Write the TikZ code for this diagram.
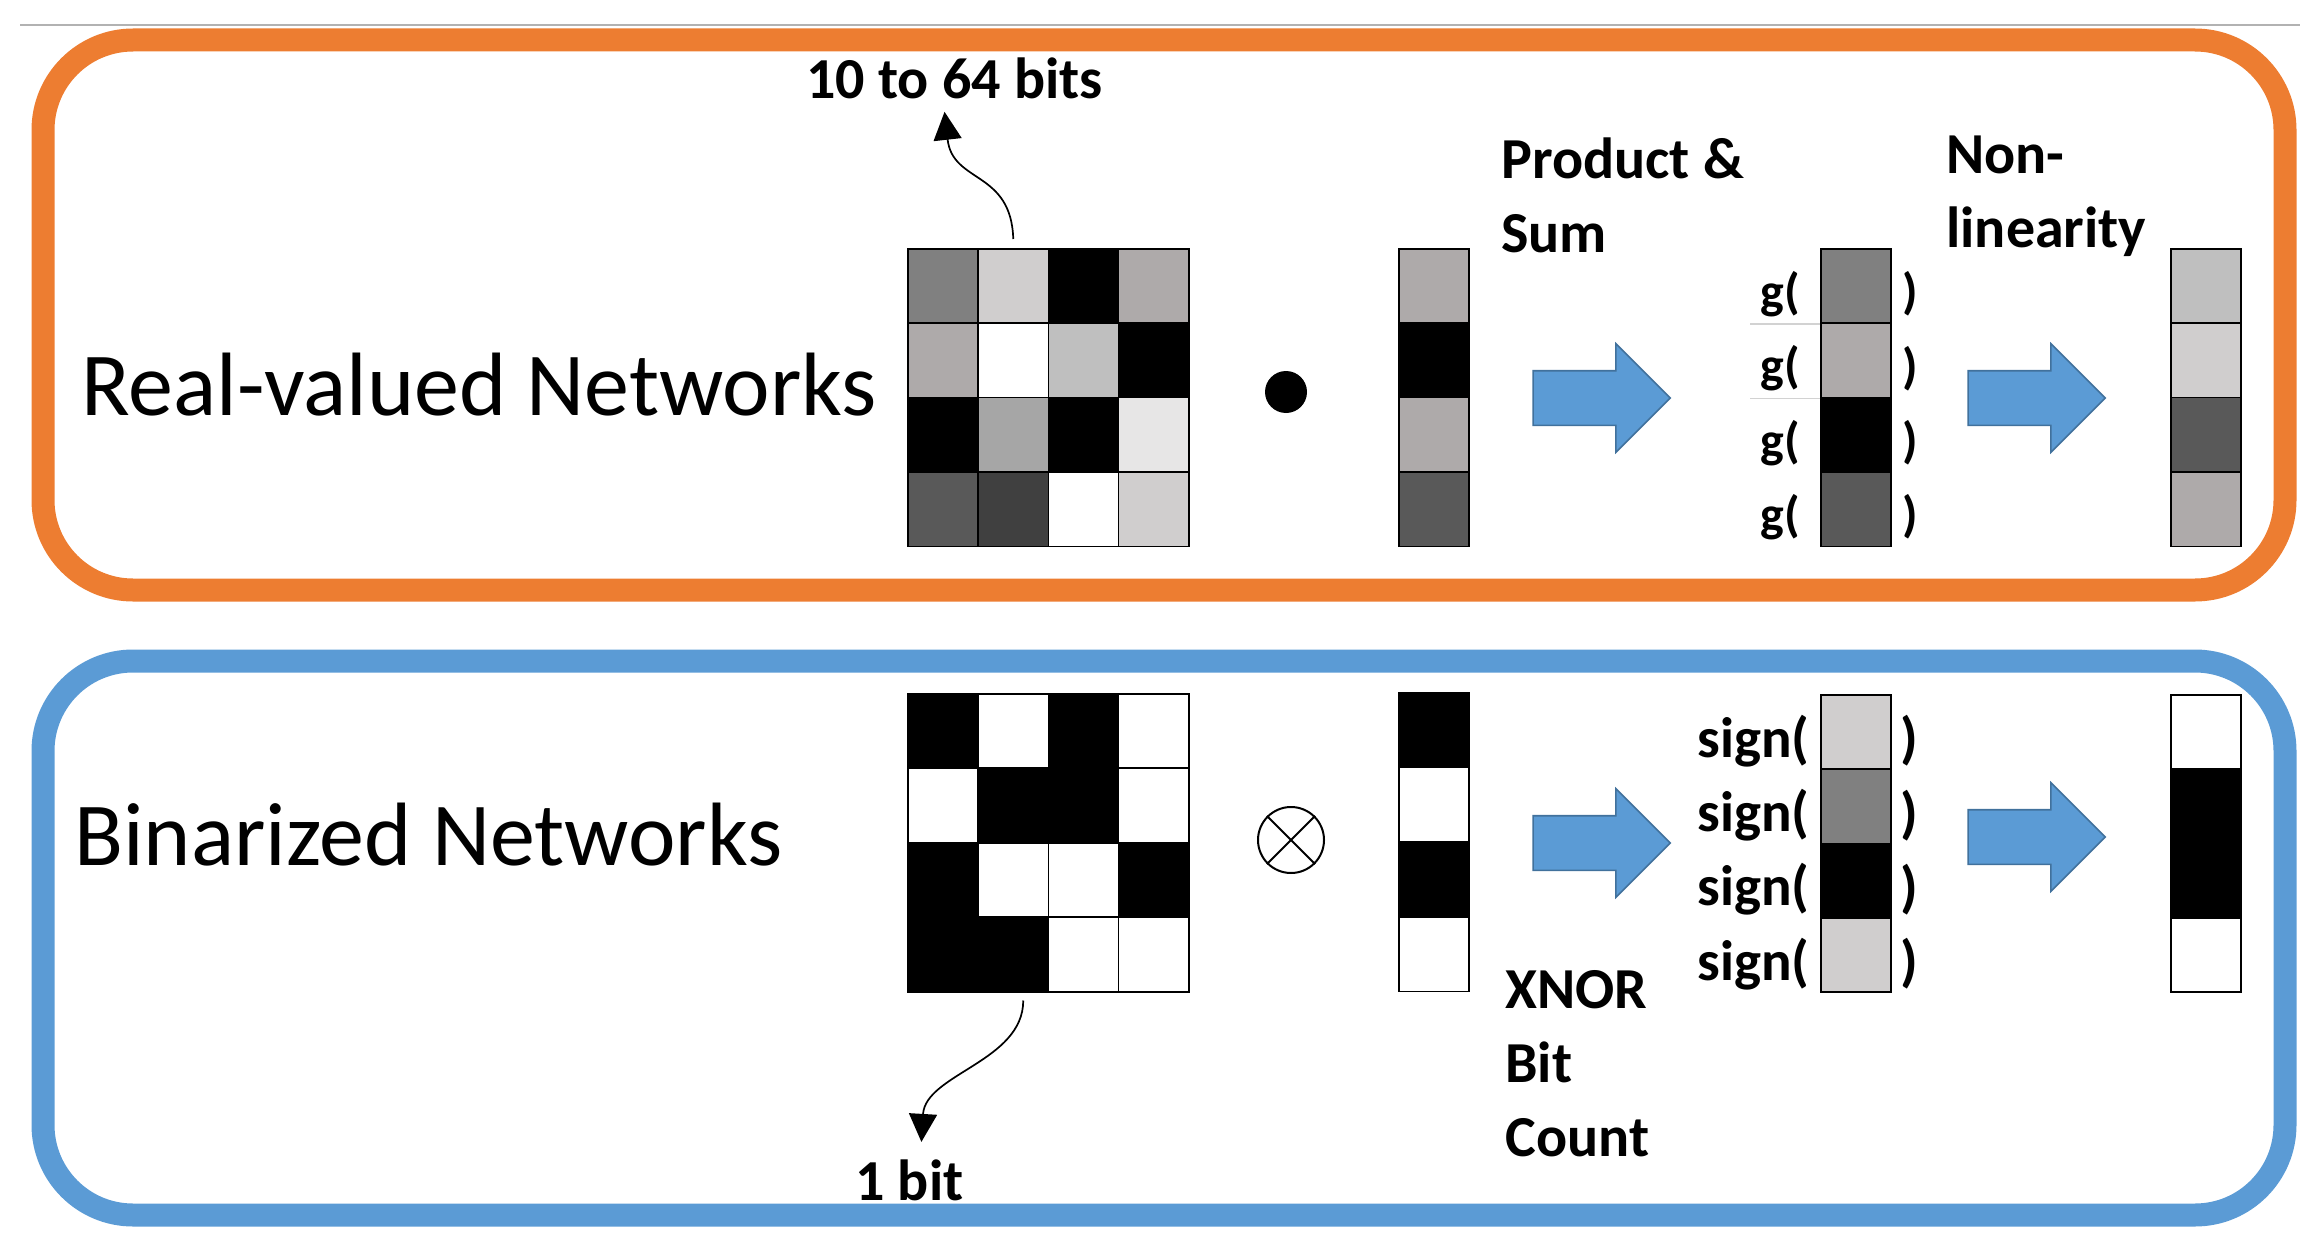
\documentclass[tikz,border=0pt]{standalone}
\usepackage{fontspec}
\setmainfont{Carlito}
\usetikzlibrary{positioning,shapes.arrows,arrows.meta}
\definecolor{boxorange}{HTML}{ED7D31}
\definecolor{boxblue}{HTML}{5B9BD5}
\definecolor{flowedge}{HTML}{41719C}
\definecolor{gMid}{HTML}{808080}
\definecolor{gLight}{HTML}{D0CECE}
\definecolor{gSilver}{HTML}{AEAAAA}
\definecolor{gPale}{HTML}{BFBFBF}
\definecolor{gAsh}{HTML}{A6A6A6}
\definecolor{gMist}{HTML}{E7E6E6}
\definecolor{gDim}{HTML}{595959}
\definecolor{gDark}{HTML}{404040}
\tikzset{
    cell/.style={
        rectangle,
        draw=black,
        line width=0.8pt,
        minimum width=35.2pt,
        minimum height=37.2pt,
        inner sep=0pt,
        anchor=north west
    },
    title/.style={
        font=\fontsize{45}{54}\selectfont,
        inner sep=0pt,
        anchor=base west
    },
    tag/.style={
        font=\bfseries\fontsize{29}{37}\selectfont,
        inner sep=0pt,
        anchor=base west,
        align=left
    },
    flow/.style={
        single arrow,
        draw=flowedge,
        fill=boxblue,
        line width=0.8pt,
        minimum height=68.5pt,
        single arrow head extend=13.5pt,
        inner xsep=0pt,
        inner ysep=13.25pt
    },
    bend arrow/.style={
        -{Triangle[length=14pt,width=14pt]},
        line width=0.85pt
    }
}
\tikzstyle{frame} = [line width=11.5pt, rounded corners=45pt]

\begin{document}
\begin{tikzpicture}[x=0.5pt, y=-0.5pt]
            \useasboundingbox (0,0) rectangle (2319,1247);
            \draw [gray!60, line width=1pt] (20,25) -- (2300,25);
            \draw [frame, draw=boxorange] (43,40) rectangle (2285,590);
            \draw [frame, draw=boxblue] (43,661) rectangle (2285,1215);

            % real-valued row
            \node (realname) [title] at (81,415) {Real-valued Networks};
            \foreach \row [count=\r] in {{gMid,gLight,black,gSilver},{gSilver,white,gPale,black},{black,gAsh,black,gMist},{gDim,gDark,white,gLight}}
                \foreach \c [count=\k] in \row
                    \node (rm\r\k) [cell, fill=\c] at ({907+70.25*(\k-1)},{248+74.4*(\r-1)}) {};
            \node (dot) [circle, fill=black, minimum size=21pt, inner sep=0pt] at (1286,392) {};
            \foreach \c [count=\r] in {gSilver,black,gSilver,gDim}
                \node (rv\r) [cell, fill=\c] at (1398,{248+74.4*(\r-1)}) {};
            \node (rflowa) [flow] at (1588,398) {};
            \foreach \c [count=\r] in {gMid,gSilver,black,gDim} {
                \node (rg\r) [cell, fill=\c] at (1820,{248+74.4*(\r-1)}) {};
                \node (rgl\r) [tag, anchor=east, font=\bfseries\fontsize{25}{30}\selectfont, left=10pt of rg\r, yshift=-4pt] {g(};
                \node (rgr\r) [tag, anchor=west, font=\bfseries\fontsize{25}{30}\selectfont, right=5pt of rg\r, yshift=-4pt] {)};
            }
            \draw [gray!35, line width=0.6pt] (rg1.south west) -- ++(-70,0);
            \draw [gray!35, line width=0.6pt] (rg2.south west) -- ++(-70,0);
            \node (rflowb) [flow] at (2023,398) {};
            \foreach \c [count=\r] in {gPale,gLight,gDim,gSilver}
                \node (ro\r) [cell, fill=\c] at (2170,{248+74.4*(\r-1)}) {};
            \node (bitsmany) [tag] at (806,99) {10 to 64 bits};
            \node (prodsum) [tag] at (1501,252) {Product \&\\Sum};
            \node (nonlin) [tag] at (1946,247) {Non-\\linearity};
            \draw [bend arrow] ([yshift=4.5pt]rm12.north) .. controls +(-2,-69) and +(8,72) .. ([xshift=-5pt,yshift=-6pt]bitsmany.south);

            % binarized row
            \node (binname) [title] at (74,865) {Binarized Networks};
            \foreach \row [count=\r] in {{black,white,black,white},{white,black,black,white},{black,white,white,black},{black,black,white,white}}
                \foreach \c [count=\k] in \row
                    \node (bm\r\k) [cell, fill=\c] at ({907+70.25*(\k-1)},{693+74.5*(\r-1)}) {};
            \node (xnor) [circle, draw=black, line width=1pt, minimum size=33pt, inner sep=0pt] at (1291,840) {};
            \draw [line width=1pt] (xnor.north west) -- (xnor.south east);
            \draw [line width=1pt] (xnor.north east) -- (xnor.south west);
            \foreach \c [count=\r] in {black,white,black,white}
                \node (bv\r) [cell, fill=\c] at (1398,{692+74.7*(\r-1)}) {};
            \node (bflowa) [flow] at (1588,843) {};
            \foreach \c [count=\r] in {gLight,gMid,black,gLight} {
                \node (bs\r) [cell, fill=\c] at (1820,{694+74.3*(\r-1)}) {};
                \node (bsl\r) [tag, anchor=east, font=\bfseries\fontsize{28.5}{34}\selectfont, left=5pt of bs\r, yshift=-4.5pt] {sign(};
                \node (bsr\r) [tag, anchor=west, font=\bfseries\fontsize{28.5}{34}\selectfont, right=4pt of bs\r, yshift=-4.5pt] {)};
            }
            \node (bflowb) [flow] at (2023,837) {};
            \foreach \c [count=\r] in {white,black,black,white}
                \node (bo\r) [cell, fill=\c] at (2170,{694+74.3*(\r-1)}) {};
            \node (xnorcount) [tag] at (1505,1156) {XNOR\\Bit\\Count};
            \node (bitone) [tag] at (855,1200) {1 bit};
            \draw [bend arrow] ([xshift=5pt,yshift=-4pt]bm42.south) .. controls +(0,61) and +(4,-68) .. ([xshift=6pt,yshift=8.5pt]bitone.north);
        \end{tikzpicture}
\end{document}
